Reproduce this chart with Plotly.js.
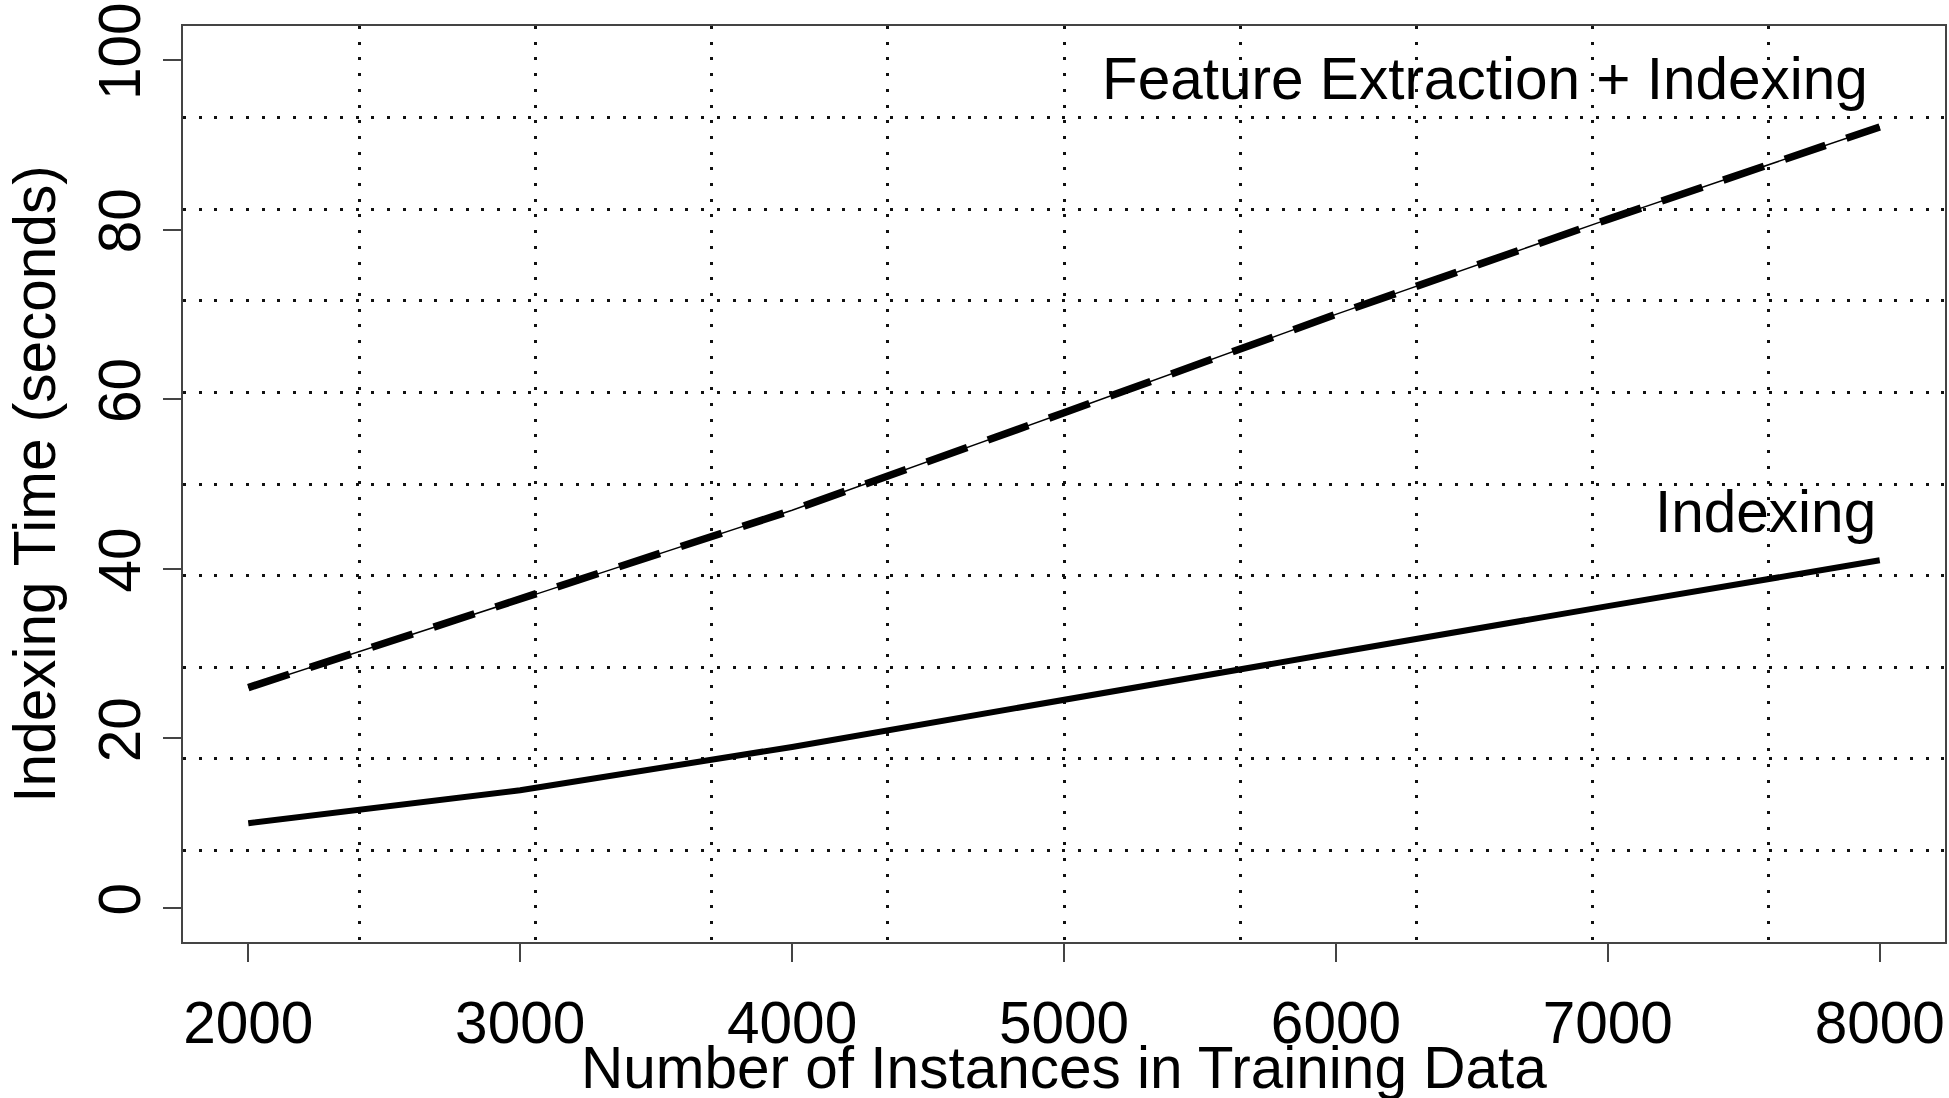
<!DOCTYPE html>
<html>
<head>
<meta charset="utf-8">
<script src="https://cdn.plot.ly/plotly-3.0.1.min.js"></script>
<style>html,body{margin:0;padding:0;background:#fff;}#chart{width:1949px;height:1098px;}</style>
</head>
<body>
<div id="chart"></div>
<script>
// ---- data ----
const trainingSizes = [2000, 3000, 4000, 5000, 6000, 7000, 8000];
const indexingTime = [10.0, 13.9, 19.0, 24.6, 30.1, 35.6, 41.0];
const featureExtractionPlusIndexingTime = [26.0, 36.4, 46.9, 58.4, 70.0, 81.2, 92.1];
const xTickValues = [2000, 3000, 4000, 5000, 6000, 7000, 8000];
const yTickValues = [0, 20, 40, 60, 80, 100];
const seriesLabels = ["Indexing", "Feature Extraction + Indexing"];
const xAxisTitle = "Number of Instances in Training Data";
const yAxisTitle = "Indexing Time (seconds)";

// ---- layout helpers ----
const xRange = [1760, 8240];
const yRange = [-4, 104];
const gridCells = 10; // R grid(): equal divisions of the plot region
const FONT = "Liberation Sans, Arial, Helvetica, sans-serif";
const FS = 58.5;

const traces = [
  {
    x: trainingSizes, y: indexingTime, type: "scatter", mode: "lines",
    name: seriesLabels[0], line: {color: "#000", width: 6}, showlegend: false
  },
  {
    x: trainingSizes, y: featureExtractionPlusIndexingTime, type: "scatter", mode: "lines",
    name: seriesLabels[1] + " (thin)", line: {color: "#000", width: 1.5}, showlegend: false,
    hoverinfo: "skip"
  },
  {
    x: trainingSizes, y: featureExtractionPlusIndexingTime, type: "scatter", mode: "lines",
    name: seriesLabels[1], line: {color: "#000", width: 7.5, dash: "43px,22px"}, showlegend: false
  }
];

const gridStyle = {showgrid: true, gridcolor: "#111", gridwidth: 3, griddash: "3px,12.7px",
  ticks: "inside", ticklen: 0};

const layout = {
  width: 1949, height: 1098,
  margin: {l: 183, r: 4, t: 26, b: 156, pad: 0},
  paper_bgcolor: "#fff", plot_bgcolor: "#fff",
  font: {family: FONT, color: "#000", size: FS},
  showlegend: false,
  xaxis: {
    range: xRange, autorange: false, fixedrange: true,
    tickmode: "array", tickvals: xTickValues, ticktext: xTickValues.map(String),
    ticks: "outside", ticklen: 18, tickwidth: 2, tickcolor: "#444",
    ticklabelstandoff: 11,
    showline: true, mirror: true, linecolor: "#444", linewidth: 2,
    showgrid: false, zeroline: false,
    tickfont: {family: FONT, size: FS, color: "#000"},
    minor: Object.assign({tick0: xRange[0], dtick: (xRange[1] - xRange[0]) / gridCells}, gridStyle)
  },
  yaxis: {
    range: yRange, autorange: false, fixedrange: true,
    tickmode: "array", tickvals: yTickValues, ticktext: yTickValues.map(String),
    tickangle: -90,
    ticks: "outside", ticklen: 18, tickwidth: 2, tickcolor: "#444",
    showline: true, mirror: true, linecolor: "#444", linewidth: 2,
    showgrid: false, zeroline: false,
    tickfont: {family: FONT, size: FS, color: "#000"},
    minor: Object.assign({tick0: yRange[0], dtick: (yRange[1] - yRange[0]) / gridCells}, gridStyle),
    title: {text: yAxisTitle, font: {family: FONT, size: FS, color: "#000"}, standoff: 12}
  },
  annotations: [
    {x: 7965, y: 97.8, xref: "x", yref: "y", text: seriesLabels[1], showarrow: false,
     xanchor: "right", yanchor: "middle", font: {family: FONT, size: FS, color: "#000"}},
    {x: 7995, y: 46.8, xref: "x", yref: "y", text: seriesLabels[0], showarrow: false,
     xanchor: "right", yanchor: "middle", font: {family: FONT, size: FS, color: "#000"}},
    {x: 0.5, y: 0, xref: "paper", yref: "paper", text: xAxisTitle, showarrow: false,
     xanchor: "center", yanchor: "middle", yshift: -125, font: {family: FONT, size: FS, color: "#000"}}
  ]
};

Plotly.newPlot("chart", traces, layout, {displayModeBar: false, staticPlot: true});
</script>
</body>
</html>
